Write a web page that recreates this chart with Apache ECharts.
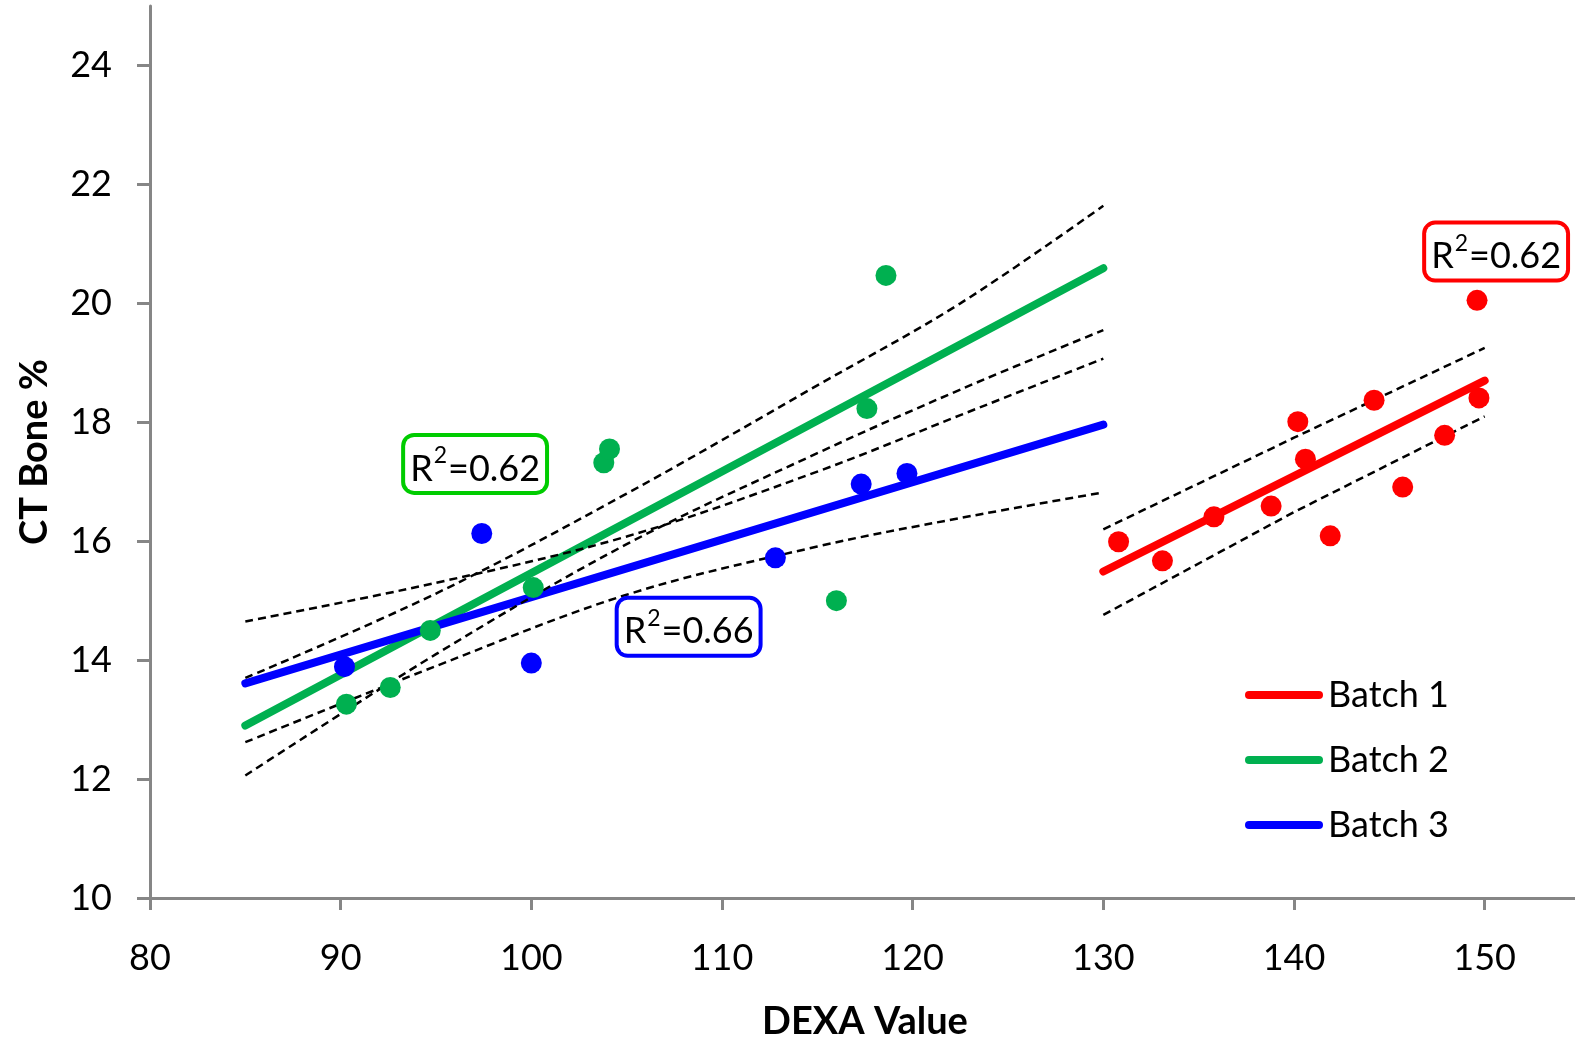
<!DOCTYPE html>
<html>
<head>
<meta charset="utf-8">
<title>CT Bone % vs DEXA Value</title>
<script src="https://cdn.jsdelivr.net/npm/echarts@6/dist/echarts.min.js"></script>
<style>
  html, body { margin: 0; padding: 0; background: #ffffff; }
  #chart { width: 1575px; height: 1039px; }
</style>
</head>
<body>
<div id="chart"></div>
<script>
// Axis ticks
const xTicks = [80, 90, 100, 110, 120, 130, 140, 150];
const yTicks = [10, 12, 14, 16, 18, 20, 22, 24];

// Batch 1 measurements (DEXA value, CT bone %)
const batch1X = [130.8, 133.1, 135.8, 138.8, 140.2, 140.6, 141.9, 144.2, 145.7, 147.9, 149.6, 149.7];
const batch1Y = [15.99, 15.67, 16.41, 16.59, 18.01, 17.38, 16.09, 18.37, 16.91, 17.78, 20.05, 18.41];

// Batch 2 measurements
const batch2X = [90.3, 92.6, 94.7, 100.1, 103.8, 104.1, 116.0, 117.6, 118.6];
const batch2Y = [13.26, 13.54, 14.50, 15.22, 17.32, 17.55, 15.00, 18.23, 20.47];

// Batch 3 measurements
const batch3X = [90.2, 97.4, 100.0, 112.8, 117.3, 119.7];
const batch3Y = [13.89, 16.13, 13.95, 15.72, 16.96, 17.14];

// Linear fits (end points)
const fit1X = [130, 150];
const fit1Y = [15.49, 18.70];
const fit2X = [85, 130];
const fit2Y = [12.90, 20.59];
const fit3X = [85, 130];
const fit3Y = [13.61, 17.96];

// Confidence bands around the fits
const band1X = [130, 140, 150];
const band1Upper = [16.20, 17.74, 19.25];
const band1Lower = [14.76, 16.49, 18.10];

const band23X = [85, 95, 105, 115, 122.5, 130];
const band2Upper = [13.70, 15.12, 16.80, 18.62, 20.00, 21.64];
const band2Lower = [12.06, 14.10, 15.95, 17.48, 18.55, 19.55];
const band3Upper = [14.65, 15.30, 16.08, 17.17, 18.12, 19.07];
const band3Lower = [12.62, 13.90, 15.10, 15.91, 16.39, 16.82];

// Coefficient of determination for each batch
const r2Values = ['0.62', '0.62', '0.66'];

const batchNames = ['Batch 1', 'Batch 2', 'Batch 3'];
const batchColors = ['#FF0000', '#00B050', '#0000FF'];
const boxColors = ['#FF0000', '#00CC00', '#0000FF'];
// where each R² box sits, in data units
const r2Anchor = [[150.6, 20.87], [97.05, 17.30], [108.25, 14.56]];

const pairs = (xs, ys) => xs.map((x, i) => [x, ys[i]]);

const FONT = 'Lato';

function fitSeries(name, xs, ys, color) {
  return {
    name: name, type: 'line', data: pairs(xs, ys),
    symbol: 'none', silent: true, z: 2,
    lineStyle: { color: color, width: 8, cap: 'round' },
    itemStyle: { color: color }
  };
}
function bandSeries(xs, ys, smooth) {
  return {
    name: 'band', type: 'line', data: pairs(xs, ys),
    symbol: 'none', silent: true, z: 3,
    smooth: smooth,
    lineStyle: { color: '#000000', width: 2.5, type: [8, 5] }
  };
}
function pointSeries(xs, ys, color) {
  return {
    name: 'points', type: 'scatter', data: pairs(xs, ys),
    symbol: 'circle', symbolSize: 21, z: 4,
    itemStyle: { color: color, opacity: 1 }
  };
}
function r2Series(i) {
  return {
    name: 'r2', type: 'scatter', data: [r2Anchor[i]],
    symbolSize: 0, silent: true, z: 6,
    itemStyle: { opacity: 1 },
    label: {
      show: true, position: 'inside',
      formatter: '{r|R}{s|2}{r|=' + r2Values[i] + '}',
      color: '#000000', opacity: 1,
      textBorderWidth: 0, textShadowBlur: 0,
      backgroundColor: '#ffffff',
      borderColor: boxColors[i], borderWidth: 4, borderRadius: 9,
      padding: [6, 5, 4, 5],
      rich: {
        r: { fontFamily: FONT, fontSize: 36, color: '#000', lineHeight: 44, verticalAlign: 'bottom', textBorderWidth: 0 },
        s: { fontFamily: FONT, fontSize: 23, color: '#000', lineHeight: 44, verticalAlign: 'top', padding: [1, 1, 0, 1], textBorderWidth: 0 }
      }
    }
  };
}

const axisGrey = '#868686';

const option = {
  animation: false,
  backgroundColor: '#ffffff',
  textStyle: { fontFamily: FONT },
  grid: { left: 150, top: 6, width: 1430, bottom: 141, containLabel: false, outerBoundsMode: 'none' },
  legend: {
    data: batchNames,
    orient: 'vertical',
    left: 1240, top: 670,
    itemWidth: 78, itemHeight: 8, itemGap: 25,
    icon: 'path://M4,0 L74,0 A4,4 0 0 1 74,8 L4,8 A4,4 0 0 1 4,0 Z',
    textStyle: { fontFamily: FONT, fontSize: 36, color: '#000', lineHeight: 40 },
    selectedMode: false
  },
  xAxis: {
    type: 'value', min: 80, max: 155, interval: 10,
    name: 'DEXA Value', nameLocation: 'middle', nameGap: 105,
    nameTextStyle: { fontFamily: FONT, fontWeight: 'bold', fontSize: 38, color: '#000' },
    axisLine: { show: true, lineStyle: { color: axisGrey, width: 3 } },
    axisTick: { show: true, length: 12, inside: false, customValues: xTicks, lineStyle: { color: axisGrey, width: 3 } },
    axisLabel: { customValues: xTicks, margin: 42, fontFamily: FONT, fontSize: 36, color: '#000' },
    splitLine: { show: false }
  },
  yAxis: {
    type: 'value', min: 10, max: 25, interval: 2,
    name: 'CT Bone %', nameLocation: 'middle', nameGap: 96,
    nameTextStyle: { fontFamily: FONT, fontWeight: 'bold', fontSize: 38, color: '#000' },
    axisLine: { show: true, lineStyle: { color: axisGrey, width: 3 } },
    axisTick: { show: true, length: 13, inside: false, customValues: yTicks, lineStyle: { color: axisGrey, width: 3 } },
    axisLabel: { customValues: yTicks, margin: 38, fontFamily: FONT, fontSize: 36, color: '#000' },
    splitLine: { show: false }
  },
  series: [
    fitSeries(batchNames[0], fit1X, fit1Y, batchColors[0]),
    fitSeries(batchNames[1], fit2X, fit2Y, batchColors[1]),
    fitSeries(batchNames[2], fit3X, fit3Y, batchColors[2]),
    bandSeries(band1X, band1Upper, false),
    bandSeries(band1X, band1Lower, false),
    bandSeries(band23X, band2Upper, 0.35),
    bandSeries(band23X, band2Lower, 0.35),
    bandSeries(band23X, band3Upper, 0.35),
    bandSeries(band23X, band3Lower, 0.35),
    pointSeries(batch1X, batch1Y, batchColors[0]),
    pointSeries(batch2X, batch2Y, batchColors[1]),
    pointSeries(batch3X, batch3Y, batchColors[2]),
    r2Series(0),
    r2Series(1),
    r2Series(2)
  ]
};

const chart = echarts.init(document.getElementById('chart'), null, { renderer: 'canvas' });
chart.setOption(option);
</script>
</body>
</html>
